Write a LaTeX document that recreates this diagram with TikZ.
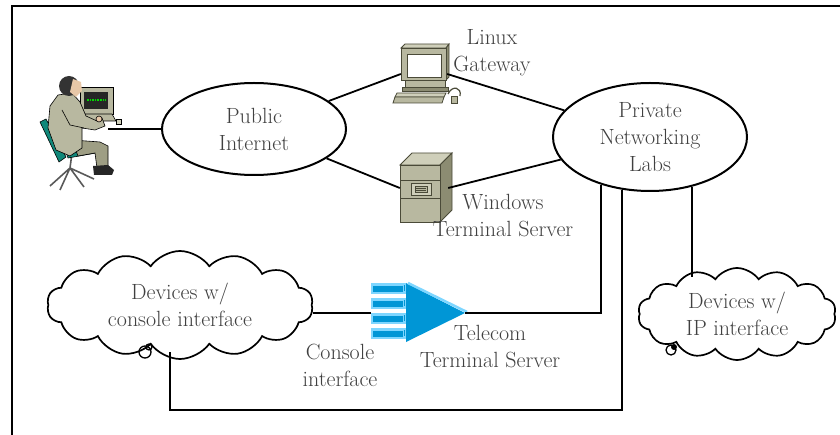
\documentclass[tikz,border=0pt]{standalone}
\usepackage{tikz}
\usetikzlibrary{positioning,shapes.geometric,shapes.symbols}

\definecolor{txtgray}{HTML}{404040}
\definecolor{khaki}{HTML}{B8B8A0}
\definecolor{khakilight}{HTML}{CFCFBA}
\definecolor{khakidark}{HTML}{8C8C72}
\definecolor{khakiline}{HTML}{4A4A38}
\definecolor{chairteal}{HTML}{10887A}
\definecolor{skin}{HTML}{E8C8A8}
\definecolor{tsblue}{HTML}{0096D6}
\definecolor{tslight}{HTML}{7ED6FF}

\begin{document}
\begin{tikzpicture}[x=1pt,y=-1pt,
  lbl/.style={align=center,text=txtgray,font=\fontsize{22}{27}\selectfont},
  net/.style={ellipse,draw,line width=2pt,inner sep=0pt,lbl},
  devs/.style={cloud,cloud puffs=14,cloud puff arc=110,cloud ignores aspect,draw,line width=1.7pt,inner sep=0pt,lbl},
  box/.style={rectangle,inner sep=0pt},
  wire/.style={line width=1.8pt}]
  \useasboundingbox (0,0) rectangle (840,435);
  \draw[line width=2.2pt] (12,435) -- (12,6) -- (840,6);

  % Networks
  \node[net,minimum width=184,minimum height=92] (pub) at (254,129) {Public\\Internet};
  \node[net,minimum width=194,minimum height=108] (priv) at (650,137) {Private\\Networking\\Labs};
  \node[devs,minimum width=266,minimum height=108] (con) at (180,305) {Devices w/\\console interface};
  \node[devs,minimum width=198,minimum height=92] (ip) at (737,314) {Devices w/\\IP interface};

  % Boxes holding the icons
  \node[box,minimum width=78,minimum height=115] (user) at (79,132) {};
  \node[box,minimum width=46,minimum height=62] (linux) at (424,74) {};
  \node[box,minimum width=48,minimum height=70] (win) at (424,188) {};
  \node[box,minimum width=94,minimum height=60] (tts) at (418,313) {};
  \coordinate (desk) at (108,129);
  \coordinate (bot) at (170,410);

  % User at the workstation
  \begin{scope}[line width=0.6pt]
    \draw[line width=1.6pt,black!65] (72,153) -- (70,168)
      (70,168) -- (50,186) (70,168) -- (60,190) (70,168) -- (84,187) (70,168) -- (94,179);
    \filldraw[fill=chairteal] (40,122) -- (46,119) -- (66,157) -- (59,162) -- cycle;
    \filldraw[fill=khaki] (80,87) rectangle (113,114);
    \fill[black!85] (84,92) rectangle (108,109);
    \draw[green!85!black,line width=1.3pt,dash pattern=on 1.6pt off 1pt] (87,100) -- (106,100);
    \filldraw[fill=khaki] (84,114) -- (112,114) -- (116,121) -- (86,121) -- cycle;
    \filldraw[fill=khakilight] (116,119) rectangle (121,124);
    \filldraw[fill=chairteal] (66,152) -- (95,148) -- (96,153) -- (68,158) -- cycle;
    \filldraw[fill=khakidark!60!khaki] (72,140) -- (100,142) -- (108,146) -- (108,168)
      -- (97,168) -- (95,153) -- (78,156) -- cycle;
    \fill[black!85] (93,166) -- (108,165) -- (114,170) -- (112,175) -- (94,175) -- cycle;
    \filldraw[fill=khaki] (58,95) -- (72,93) -- (80,102) -- (86,116) -- (97,121) -- (102,118)
      -- (105,126) -- (95,130) -- (82,128) -- (82,148) -- (70,156) -- (56,150) -- (48,128)
      -- (50,106) -- cycle;
    \draw (62,110) -- (70,125) -- (84,128);
    \filldraw[fill=skin] (99,119) circle (3);
    \fill[black!80] (69,86) circle (10);
    \fill[skin] (73,79) -- (81,82) -- (82,91) -- (76,97) -- (70,92) -- cycle;
  \end{scope}

  % Linux gateway (desktop PC)
  \begin{scope}[shift={(linux)},draw=khakiline,line width=0.8pt]
    \filldraw[fill=khakilight] (-23,-26) -- (-19,-30) -- (25,-30) -- (22,-26) -- cycle;
    \filldraw[fill=khakidark] (22,-26) -- (25,-30) -- (25,3) -- (22,6) -- cycle;
    \filldraw[fill=khaki] (-23,-26) rectangle (22,6);
    \filldraw[fill=white] (-17,-20) rectangle (17,3);
    \filldraw[fill=khaki] (-19,6) rectangle (21,13);
    \filldraw[fill=khakidark] (-22,13) rectangle (24,17);
    \filldraw[fill=khakilight] (-27,19) -- (22,19) -- (20,23) -- (-29,23) -- cycle;
    \filldraw[fill=khaki] (-29,23) -- (20,23) -- (18,29) -- (-31,29) -- cycle;
    \draw[line width=1.2pt] (24,20) .. controls (28,11) and (38,13) .. (36,22);
    \filldraw[fill=khaki] (27,22) rectangle (33,29);
  \end{scope}

  % Windows terminal server (tower)
  \begin{scope}[shift={(win)},draw=khakiline,line width=0.8pt]
    \filldraw[fill=khakilight] (-24,-23) -- (-12,-35) -- (28,-35) -- (16,-23) -- cycle;
    \filldraw[fill=khakidark] (16,-23) -- (28,-35) -- (28,22) -- (16,34) -- cycle;
    \filldraw[fill=khaki] (-24,-23) rectangle (16,34);
    \draw (-24,-8) -- (16,-8) (-24,10) -- (16,10);
    \filldraw[fill=khakilight] (-13,-5) rectangle (7,7);
    \filldraw[fill=khaki] (-9,-2) rectangle (3,4);
    \draw (-8,0) -- (2,0) (-8,2) -- (2,2);
  \end{scope}

  % Telecom terminal server
  \begin{scope}[shift={(tts)}]
    \foreach \y in {-30,-15,0,15}
    {
      \fill[tslight] (-47,\y) rectangle (-12,\y+11);
      \fill[tsblue] (-45,\y+3) rectangle (-15,\y+9);
      \fill[tsblue] (-14,\y+2) rectangle (-13,\y+8);
    }
    \fill[tsblue] (-12,-30) -- (47,0) -- (-12,29) -- cycle;
    \draw[tslight,line width=2.5pt] (-10,-30) -- (49,-1);
  \end{scope}

  % Labels
  \node[lbl] (linuxlbl) at (492,53) {Linux\\Gateway};
  \node[lbl] (winlbl) at (503,216) {Windows\\Terminal Server};
  \node[lbl] (ttslbl) at (490,347) {Telecom\\Terminal Server};
  \node[lbl] (conlbl) at (340,365) {Console\\interface};

  % Connections
  \draw[wire] (desk) -- (pub);
  \draw[wire] (pub) -- (linux.west);
  \draw[wire] (linux.east) -- (priv);
  \draw[wire] (pub) -- (win.west);
  \draw[wire] (win.east) -- (priv);
  \draw[wire] (con.east |- tts.west) -- (tts.west);
  \draw[wire] (priv.-136) |- (tts.east);
  \draw[wire] (priv.-118) |- (bot) -- ([yshift=8pt]bot |- con.south);
  \draw[wire] (priv.-50) -- ([yshift=-10pt]priv.-50 |- ip.north);
  % little loops on the clouds
  \draw[line width=1.3pt] (145,352) circle (6) (149,347) circle (3);
  \draw[line width=1.3pt] (671,350) circle (5);
  \fill (674,347) circle (3);
\end{tikzpicture}
\end{document}
